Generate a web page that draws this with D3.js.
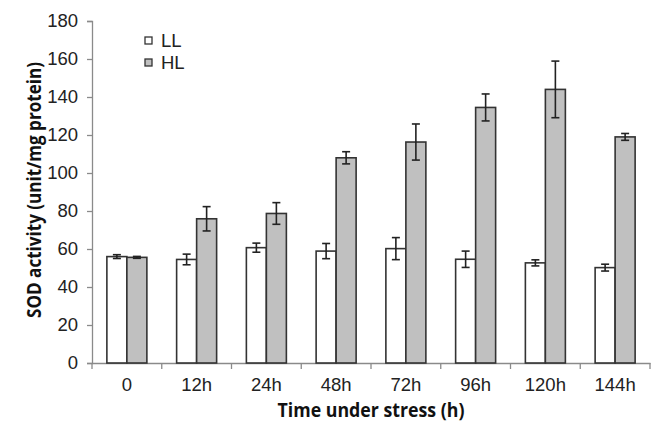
<!DOCTYPE html>
<html>
<head>
<meta charset="utf-8">
<script src="https://cdn.jsdelivr.net/npm/d3@7"></script>
<style>
  body { margin: 0; background: #fff; }
  svg { display: block; }
</style>
</head>
<body>
<svg width="657" height="424"></svg>
<script>
// time points and measured SOD activity
const times = ["0", "12h", "24h", "48h", "72h", "96h", "120h", "144h"];
const llMean = [56, 54.5, 60.7, 58.9, 60.2, 54.6, 52.7, 50.2];
const llErr  = [1, 2.8, 2.4, 4, 5.8, 4.3, 1.6, 1.8];
const hlMean = [55.6, 75.9, 78.7, 108, 116.3, 134.5, 144, 119];
const hlErr  = [0.5, 6.4, 5.7, 3.2, 9.5, 7.1, 14.9, 1.8];
const yTicks = [0, 20, 40, 60, 80, 100, 120, 140, 160, 180];
const series = ["LL", "HL"];

const svg = d3.select("svg");
const plotL = 92, plotR = 650, plotT = 21, plotB = 363;
const tickFont = "Liberation Sans, Arial, sans-serif";

let x = d3.scaleBand().domain(times).range([plotL, plotR]);
let sub = d3.scaleBand().domain(series).range([0, 40]);
let y = d3.scaleLinear().domain([0, 180]).range([plotB, plotT]);
let fill = d3.scaleOrdinal().domain(series).range(["#ffffff", "#c0c0c0"]);

const rows = times.map((t, i) => ({
    t: t,
    vals: [
        { s: "LL", v: llMean[i], e: llErr[i] },
        { s: "HL", v: hlMean[i], e: hlErr[i] }
    ]
}));

// y axis
const yAxis = svg.append("g")
    .attr("transform", `translate(${plotL},0)`)
    .call(d3.axisLeft(y).tickValues(yTicks).tickSize(5).tickPadding(9));
yAxis.select(".domain").attr("stroke", "#8a8a8a").attr("stroke-width", 1.3);
yAxis.selectAll(".tick line").attr("stroke", "#8a8a8a").attr("stroke-width", 1.3);
yAxis.selectAll("text")
    .attr("font-family", tickFont)
    .attr("font-size", 18.5).attr("fill", "#222");

// x axis with ticks at category boundaries
const xAxis = svg.append("g")
    .attr("transform", `translate(0,${plotB})`)
    .call(d3.axisBottom(x).tickSize(0).tickPadding(15));
xAxis.select(".domain").attr("stroke", "#8a8a8a").attr("stroke-width", 1.3);
xAxis.selectAll("text")
    .attr("font-family", tickFont)
    .attr("font-size", 18.5).attr("fill", "#222");
xAxis.selectAll(".bound")
    .data(d3.range(times.length + 1))
    .enter().append("line")
    .attr("x1", i => plotL + i * x.bandwidth())
    .attr("x2", i => plotL + i * x.bandwidth())
    .attr("y1", 0).attr("y2", 6)
    .attr("stroke", "#8a8a8a").attr("stroke-width", 1.3);

// bars
const groups = svg.append("g").selectAll("g")
    .data(rows).enter().append("g")
    .attr("transform", d => `translate(${x(d.t) + (x.bandwidth() - 40) / 2},0)`);

groups.selectAll("rect")
    .data(d => d.vals).enter().append("rect")
    .attr("x", d => sub(d.s))
    .attr("y", d => y(d.v))
    .attr("width", sub.bandwidth())
    .attr("height", d => plotB - y(d.v))
    .attr("fill", d => fill(d.s))
    .attr("stroke", "#333")
    .attr("stroke-width", 1.6);

// error bars
const eb = groups.selectAll("g.err")
    .data(d => d.vals).enter().append("g")
    .attr("class", "err")
    .attr("stroke", "#222").attr("stroke-width", 1.6);
eb.append("line")
    .attr("x1", d => sub(d.s) + sub.bandwidth() / 2)
    .attr("x2", d => sub(d.s) + sub.bandwidth() / 2)
    .attr("y1", d => y(d.v + d.e)).attr("y2", d => y(d.v - d.e));
eb.selectAll("line.cap")
    .data(d => [d.v + d.e, d.v - d.e].map(v => ({ s: d.s, v: v })))
    .enter().append("line")
    .attr("class", "cap")
    .attr("x1", d => sub(d.s) + sub.bandwidth() / 2 - 4)
    .attr("x2", d => sub(d.s) + sub.bandwidth() / 2 + 4)
    .attr("y1", d => y(d.v)).attr("y2", d => y(d.v));

// legend
const leg = svg.append("g").selectAll("g")
    .data(series).enter().append("g")
    .attr("transform", (d, i) => `translate(145,${37 + i * 22})`);
leg.append("rect")
    .attr("width", 7).attr("height", 7)
    .attr("fill", d => fill(d))
    .attr("stroke", "#333").attr("stroke-width", 1.3);
leg.append("text")
    .attr("x", 16).attr("y", 10)
    .attr("font-family", tickFont)
    .attr("font-size", 18.5).attr("fill", "#222")
    .text(d => d);

// axis titles
svg.append("text")
    .attr("x", 371).attr("y", 417)
    .attr("text-anchor", "middle")
    .attr("font-family", "Open Sans, sans-serif")
    .attr("font-weight", "bold").attr("font-size", 19).attr("fill", "#111")
    .attr("textLength", 187).attr("lengthAdjust", "spacingAndGlyphs")
    .text("Time under stress (h)");
svg.append("text")
    .attr("transform", "translate(41,190) rotate(-90)")
    .attr("text-anchor", "middle")
    .attr("font-family", "Open Sans, sans-serif")
    .attr("font-weight", "bold").attr("font-size", 20).attr("fill", "#111")
    .attr("textLength", 256).attr("lengthAdjust", "spacingAndGlyphs")
    .text("SOD activity (unit/mg protein)");
</script>
</body>
</html>
